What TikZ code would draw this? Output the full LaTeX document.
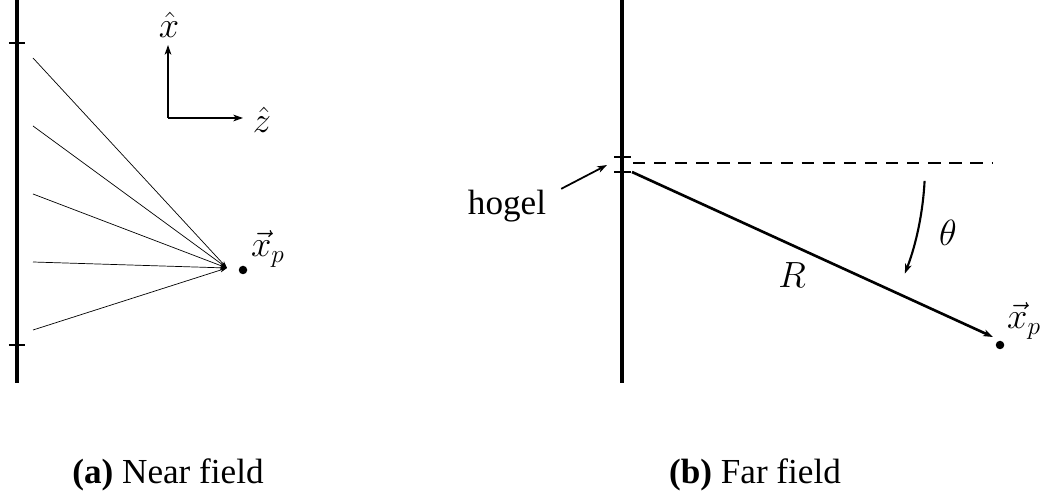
\documentclass[tikz,border=0pt]{standalone}
\usepackage{amsmath,amssymb}
\usepackage{fontspec}
\setmainfont{Liberation Serif}
\usetikzlibrary{arrows.meta,positioning}

\begin{document}
\begin{tikzpicture}[
    >={Stealth[length=5.5pt, width=3.8pt, inset=1.5pt]},
    wall/.style={line width=2.8pt},
    tickmark/.style={line width=1.2pt},
    dot/.style={circle, fill, inner sep=0pt, minimum size=0.17cm},
    lbl/.style={font=\fontsize{20}{24}\selectfont},
    mth/.style={font=\fontsize{20}{24}\selectfont, inner sep=1pt}
]
    \useasboundingbox (0,0) rectangle (20.88,9.96);

    % Near field: aperture
    \draw[wall] (0.34,9.96) -- (0.34,2.30);
    \draw[tickmark] (0.18,9.10) -- (0.50,9.10);
    \draw[tickmark] (0.18,3.06) -- (0.50,3.06);

    % Point and rays
    \node[dot] (pa) at (4.86,4.56) {};
    \node[mth] (xpa) at (5.36,4.98) {$\vec{x}_p$};
    \coordinate (tipa) at (4.54,4.60);
    \foreach \y [count=\i] in {8.80,7.44,6.08,4.72,3.36} {
        \coordinate (ray\i) at (0.66,\y);
        \draw[-{Stealth[length=4pt, width=2.6pt, inset=1.2pt]}, thin] (ray\i) -- (tipa);
    }

    % Axes
    \coordinate (org) at (3.36,7.60);
    \coordinate (xend) at (3.36,9.06);
    \coordinate (zend) at (4.86,7.60);
    \draw[->, line width=0.9pt] (org) -- (xend);
    \draw[->, line width=0.9pt] (org) -- (zend);
    \node[mth] (xhat) at (3.38,9.46) {$\hat{x}$};
    \node[mth] (zhat) at (5.24,7.56) {$\hat{z}$};

    % Far field: aperture with hogel
    \draw[wall] (12.44,9.96) -- (12.44,2.30);
    \draw[tickmark] (12.28,6.82) -- (12.62,6.82);
    \draw[tickmark] (12.28,6.52) -- (12.62,6.52);
    \coordinate (hogel) at (12.44,6.66);
    \coordinate (hz0) at (12.66,6.70);
    \coordinate (hz1) at (19.84,6.70);
    \draw[line width=1.4pt, dash pattern=on 7pt off 5pt] (hz0) -- (hz1);

    % Ray to the far point
    \node[dot] (pb) at (20.00,3.06) {};
    \node[mth] (xpb) at (20.48,3.54) {$\vec{x}_p$};
    \coordinate (rstart) at (12.64,6.52);
    \coordinate (rend) at (19.86,3.22);
    \draw[->, line width=1.5pt] (rstart) -- (rend);
    \node[mth] (rlab) at (15.84,4.46) {$R$};

    % Angle
    \draw[->, line width=1.2pt] (hogel) ++(-3:6.06) arc[start angle=-3, end angle=-21, radius=6.06];
    \node[mth] (theta) at (18.96,5.30) {$\theta$};

    % Hogel label
    \node[lbl] (hogellab) at (10.14,5.84) {hogel};
    \coordinate (hogtip) at (12.14,6.66);
    \draw[->, line width=1pt] ([shift={(0.18,-0.1)}]hogellab.north east) -- (hogtip);

    % Captions
    \node[lbl] (capa) at (3.36,0.46) {\textbf{(a)} Near field};
    \node[lbl] (capb) at (15.10,0.46) {\textbf{(b)} Far field};
\end{tikzpicture}
\end{document}
